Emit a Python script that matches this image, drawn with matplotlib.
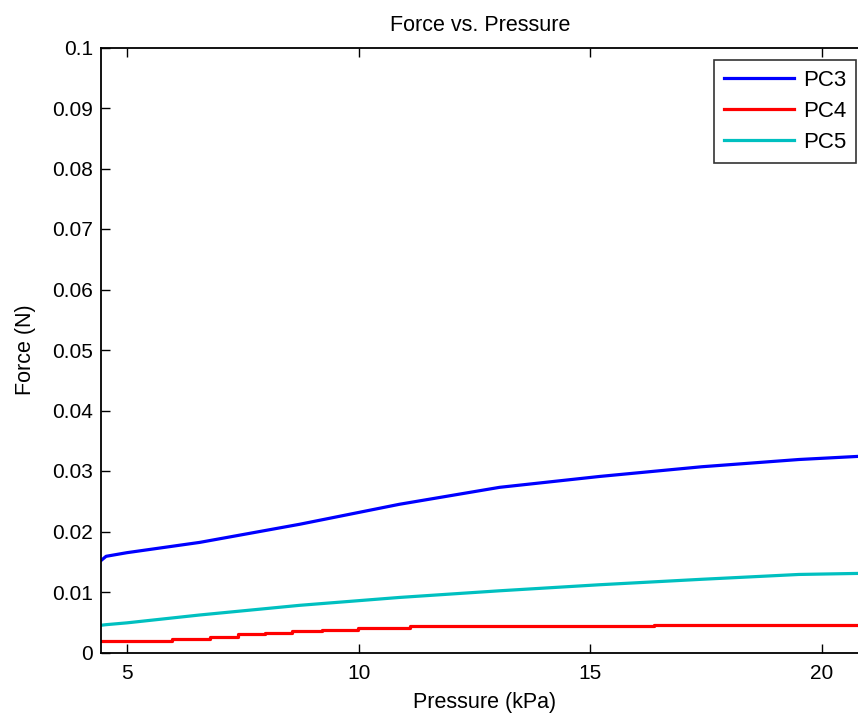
import matplotlib
matplotlib.use("Agg")
import matplotlib.pyplot as plt

pressure = [4.44, 4.55, 5.0, 6.57, 8.73, 10.88, 13.04, 15.2, 17.4, 19.5, 20.99]
pc3 = [0.0152, 0.0159, 0.0165, 0.0182, 0.0212, 0.0245, 0.0273, 0.0291, 0.0307, 0.0319, 0.0325]
pc4_x = [4.44, 5.97, 6.79, 7.39, 7.97, 8.56, 9.20, 9.98, 11.1, 16.38, 20.99]
pc4 = [0.00185, 0.0022, 0.0026, 0.0030, 0.0033, 0.0036, 0.0038, 0.0040, 0.0043, 0.0045, 0.0045]
pc5 = [0.0045, 0.0046, 0.0049, 0.0062, 0.0078, 0.0091, 0.0102, 0.0112, 0.0121, 0.0129, 0.0131]

xticks = [5, 10, 15, 20]
yticks = [0, 0.01, 0.02, 0.03, 0.04, 0.05, 0.06, 0.07, 0.08, 0.09, 0.1]
ytick_labels = ["0", "0.01", "0.02", "0.03", "0.04", "0.05", "0.06", "0.07", "0.08", "0.09", "0.1"]

plt.rcParams['font.family'] = ['Liberation Sans', 'DejaVu Sans']

W, H = 858, 715
left, right, top, bottom = 101, 868, 47.5, 652.5
fig = plt.figure(figsize=(W/100, H/100), dpi=100)
ax = fig.add_axes([left/W, 1-bottom/H, (right-left)/W, (bottom-top)/H])

ax.plot(pressure, pc3, color='#0000ff', lw=2.3, label='PC3')
ax.plot(pc4_x, pc4, color='#ff0000', lw=2.3, label='PC4', drawstyle='steps-post')
ax.plot(pressure, pc5, color='#00c0c0', lw=2.3, label='PC5')

ax.set_xlim(4.44, 20.99)
ax.set_ylim(0, 0.1)
ax.set_xticks(xticks)
ax.set_xticklabels([str(t) for t in xticks])
ax.set_yticks(yticks)
ax.set_yticklabels(ytick_labels)
ax.tick_params(direction='in', length=6.5, width=1, top=True, right=True,
               labelsize=15, colors='black', pad=5.5)
ax.tick_params(axis='x', pad=8.5)
for s in ax.spines.values():
    s.set_linewidth(1.3)

ax.set_title('Force vs. Pressure', fontsize=15.5, pad=12,
             x=(480.5-left)/(right-left))
ax.set_xlabel('Pressure (kPa)', fontsize=15.5, labelpad=6.5)
ax.set_ylabel('Force (N)', fontsize=15.5, labelpad=12)

leg = ax.legend(loc='upper right', bbox_to_anchor=(856/W, 1-60/H),
                bbox_transform=fig.transFigure, borderaxespad=0,
                fontsize=16, frameon=True, fancybox=False,
                handlelength=3.15, labelspacing=0.45,
                handletextpad=0.4, borderpad=0.45)
leg.get_frame().set_edgecolor('black')
leg.get_frame().set_linewidth(1.2)

fig.savefig('out.png', dpi=100)
